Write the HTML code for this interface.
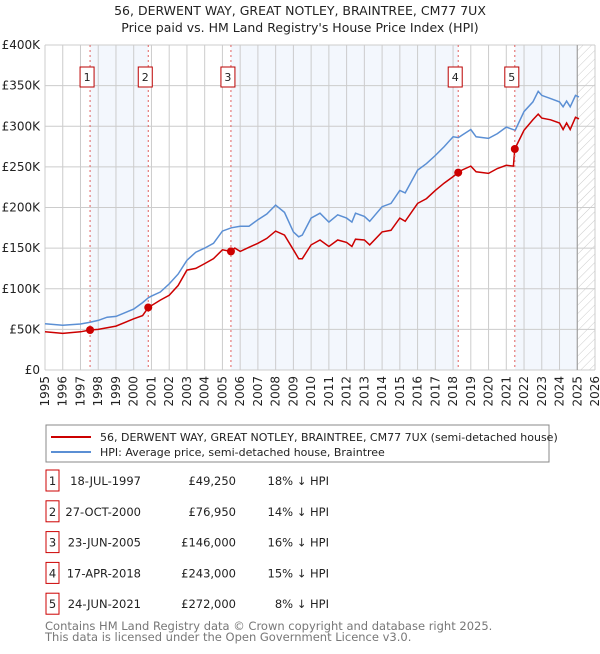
<!DOCTYPE html>
<html><head><meta charset="utf-8"><style>
body{margin:0;background:#fff;font-family:"DejaVu Sans","Liberation Sans",sans-serif;}
svg text{font-family:"DejaVu Sans","Liberation Sans",sans-serif;}
</style></head><body>
<svg id="c" width="600" height="650" xmlns="http://www.w3.org/2000/svg">
<defs><pattern id="hatch" width="6" height="6" patternUnits="userSpaceOnUse" patternTransform="rotate(45)"><line x1="0" y1="0" x2="0" y2="6" stroke="#ccc" stroke-width="1"/></pattern></defs>
<text x="300" y="15" text-anchor="middle" font-size="12.5" fill="#222">56, DERWENT WAY, GREAT NOTLEY, BRAINTREE, CM77 7UX</text>
<text x="300" y="32" text-anchor="middle" font-size="12.5" fill="#222">Price paid vs. HM Land Registry's House Price Index (HPI)</text>
<g id="bands"></g><g id="grid"></g><g id="lines"></g><g id="marks"></g>
<rect x="46" y="425" width="503" height="37" fill="#fff" stroke="#888"/>
<line x1="51" y1="437" x2="91" y2="437" stroke="#cc0000" stroke-width="2"/>
<text x="100" y="441" font-size="11" fill="#222">56, DERWENT WAY, GREAT NOTLEY, BRAINTREE, CM77 7UX (semi-detached house)</text>
<line x1="51" y1="452" x2="91" y2="452" stroke="#5b8fd4" stroke-width="2"/>
<text x="100" y="456" font-size="11" fill="#222">HPI: Average price, semi-detached house, Braintree</text>
<g id="table"></g>
<text x="45" y="630" font-size="11.5" fill="#777">Contains HM Land Registry data © Crown copyright and database right 2025.</text>
<text x="45" y="641" font-size="11.5" fill="#777">This data is licensed under the Open Government Licence v3.0.</text>
</svg>
<script>
const hpiYears=[1995,1996,1997,1997.5,1998,1998.5,1999,2000,2000.5,2000.83,2001,2001.5,2002,2002.5,2003,2003.5,2004,2004.5,2005,2005.5,2006,2006.5,2007,2007.5,2008,2008.5,2009,2009.3,2009.5,2010,2010.5,2011,2011.5,2012,2012.3,2012.5,2013,2013.3,2014,2014.5,2015,2015.3,2016,2016.5,2017,2017.5,2018,2018.3,2018.5,2019,2019.3,2020,2020.5,2021,2021.5,2022,2022.5,2022.8,2023,2023.5,2024,2024.2,2024.4,2024.6,2024.9,2025.1];
const hpiValues=[57,55,56.6,58.6,61,65,66,75,83,89,91,96,106,118,135,145,150,156,171,175,177,177,185,192,203,194,170,164,166,187,193,182,191,187,182,193,189,183,201,205,221,218,246,254,264,275,287,286,289,296,287,285,291,299,295,318,330,343,338,334,330,324,331,324,338,336];
const priceYears=[1995,1996,1997,1997.54,1998,1999,2000,2000.5,2000.82,2001.5,2002,2002.5,2003,2003.5,2004,2004.5,2005,2005.48,2005.7,2006,2006.5,2007,2007.5,2008,2008.5,2009,2009.3,2009.5,2010,2010.5,2011,2011.5,2012,2012.3,2012.5,2013,2013.3,2014,2014.5,2015,2015.3,2016,2016.5,2017,2017.5,2018,2018.29,2018.5,2019,2019.3,2020,2020.5,2021,2021.4,2021.48,2022,2022.5,2022.8,2023,2023.5,2024,2024.2,2024.4,2024.6,2024.9,2025.1];
const priceValues=[47,45,47,49.25,50,54,63,67,76.95,86,92,104,123,125,131,137,148,146,150,146,151,156,162,171,166,148,137,137,154,160,152,160,157,152,161,160,154,170,172,187,183,205,211,221,230,238,243,246,251,244,242,248,252,251,272,295,308,315,310,308,304,296,304,296,311,309];
const saleYears=[1997.54,2000.82,2005.48,2018.29,2021.48];
const saleValues=[49.25,76.95,146,243,272];
const saleLabels=["1","2","3","4","5"];
const saleDates=["18-JUL-1997","27-OCT-2000","23-JUN-2005","17-APR-2018","24-JUN-2021"];
const salePrices=["£49,250","£76,950","£146,000","£243,000","£272,000"];
const saleHpi=["18% ↓ HPI","14% ↓ HPI","16% ↓ HPI","15% ↓ HPI","8% ↓ HPI"];
const yTicks=[0,50,100,150,200,250,300,350,400];
const yTickLabels=["£0","£50K","£100K","£150K","£200K","£250K","£300K","£350K","£400K"];
const xTicks=[1995,1996,1997,1998,1999,2000,2001,2002,2003,2004,2005,2006,2007,2008,2009,2010,2011,2012,2013,2014,2015,2016,2017,2018,2019,2020,2021,2022,2023,2024,2025,2026];

const L=45,R=595,T=45,B=370;
const X=y=>L+(y-1995)*(R-L)/31;
const Y=v=>B-v*(B-T)/400;
const NS="http://www.w3.org/2000/svg";
function mk(tag,attrs,parent,txt){const e=document.createElementNS(NS,tag);for(const k in attrs)e.setAttribute(k,attrs[k]);if(txt!==undefined)e.textContent=txt;document.getElementById(parent).appendChild(e);return e;}
const bandEnds=[[0,1],[2,3]];
bandEnds.forEach(p=>{const e=mk('rect',{x:X(saleYears[p[0]]),y:T,width:X(saleYears[p[1]])-X(saleYears[p[0]]),height:B-T,fill:'#eef3fc',opacity:0.7},'bands');

});
{const e=mk('rect',{x:X(saleYears[4]),y:T,width:X(2025)-X(saleYears[4]),height:B-T,fill:'#eef3fc',opacity:0.7},'bands');

}
{const e=mk('rect',{x:X(2025),y:T,width:R-X(2025),height:B-T,fill:'url(#hatch)'},'bands');

}
xTicks.forEach(t=>{const g=mk('line',{x1:X(t),x2:X(t),y1:T,y2:B,stroke:'#ccc','stroke-width':1},'grid');


const tx=mk('text',{x:0,y:0,transform:`translate(${X(t)+4},${B+6}) rotate(-90)`,'text-anchor':'end','font-size':12,fill:'#222'},'grid',String(t));

});
yTicks.forEach((t,i)=>{const g=mk('line',{x1:L,x2:R,y1:Y(t),y2:Y(t),stroke:'#ccc','stroke-width':1},'grid');


const tx=mk('text',{x:L-5,y:Y(t)+4,'text-anchor':'end','font-size':12,fill:'#222'},'grid',yTickLabels[i]);

});
{const e=mk('line',{x1:X(2025),x2:X(2025),y1:T,y2:B,stroke:'#999','stroke-width':1},'grid');

}
const hp=mk('path',{d:hpiYears.map((y,i)=>(i?'L':'M')+X(y).toFixed(1)+','+Y(hpiValues[i]).toFixed(1)).join(''),fill:'none',stroke:'#5b8fd4','stroke-width':1.5},'lines');


const pp=mk('path',{d:priceYears.map((y,i)=>(i?'L':'M')+X(y).toFixed(1)+','+Y(priceValues[i]).toFixed(1)).join(''),fill:'none',stroke:'#cc0000','stroke-width':1.5},'lines');


saleYears.forEach((y,i)=>{
const d=mk('line',{x1:X(y),x2:X(y),y1:T,y2:B,stroke:'#e06060','stroke-width':1,'stroke-dasharray':'2,3'},'marks');


const c=mk('circle',{cx:X(y),cy:Y(saleValues[i]),r:4,fill:'#cc0000'},'marks');


const b=mk('rect',{x:X(y)-10,y:67,width:14,height:20,fill:'#fff',stroke:'#b00'},'marks');


const t=mk('text',{x:X(y)-3,y:81,'text-anchor':'middle','font-size':11,fill:'#222'},'marks',saleLabels[i]);


const ry=481+i*30.8;
const tb=mk('rect',{x:46,y:ry-11,width:13,height:21,fill:'#fff',stroke:'#cc0000'},'table');


const t1=mk('text',{x:52.5,y:ry+4,'text-anchor':'middle','font-size':11.5,fill:'#222'},'table',saleLabels[i]);


const t2=mk('text',{x:141,y:ry+4,'text-anchor':'end','font-size':11.5,fill:'#222'},'table',saleDates[i]);


const t3=mk('text',{x:236,y:ry+4,'text-anchor':'end','font-size':11.5,fill:'#222'},'table',salePrices[i]);


const t4=mk('text',{x:329,y:ry+4,'text-anchor':'end','font-size':11.5,fill:'#222'},'table',saleHpi[i]);


});
</script>
</body></html>
